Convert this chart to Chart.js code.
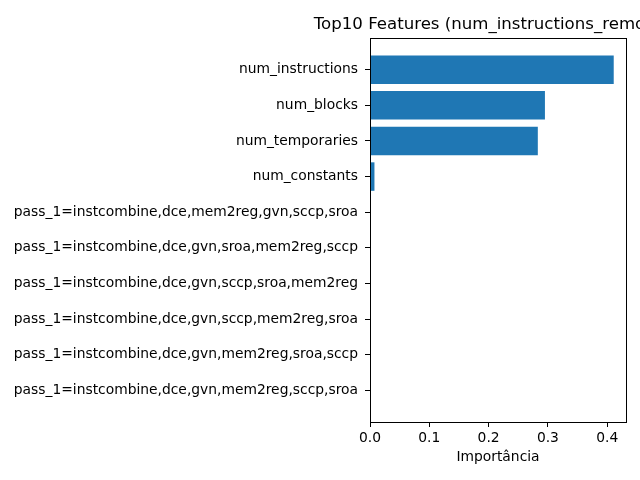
<!DOCTYPE html>
<html>
<head>
<meta charset="utf-8">
<script src="https://cdn.jsdelivr.net/npm/chart.js@4/dist/chart.umd.min.js"></script>
<style>
  html, body { margin: 0; padding: 0; background: #fff; }
</style>
</head>
<body>
<canvas id="grafico" width="640" height="480"></canvas>
<script>
// datos (de arriba hacia abajo)
const features = [
  'num_instructions',
  'num_blocks',
  'num_temporaries',
  'num_constants',
  'pass_1=instcombine,dce,mem2reg,gvn,sccp,sroa',
  'pass_1=instcombine,dce,gvn,sroa,mem2reg,sccp',
  'pass_1=instcombine,dce,gvn,sccp,sroa,mem2reg',
  'pass_1=instcombine,dce,gvn,sccp,mem2reg,sroa',
  'pass_1=instcombine,dce,gvn,mem2reg,sroa,sccp',
  'pass_1=instcombine,dce,gvn,mem2reg,sccp,sroa'
]
const importancia = [0.411, 0.295, 0.283, 0.0075, 0, 0, 0, 0, 0, 0]
const xTicks = [0, 0.1, 0.2, 0.3, 0.4]
const titulo = 'Top10 Features (num_instructions_removed)'
const xTitulo = 'Importância'

const fuente = 'DejaVu Sans'

// titulo centrado sobre el area del grafico + marco completo
const marco = {
  id: 'marco',
  afterDraw(chart) {
    const ctx = chart.ctx
    const a = chart.chartArea
    ctx.save()
    ctx.strokeStyle = '#000'
    ctx.lineWidth = 1
    ctx.strokeRect(Math.round(a.left) + 0.5, Math.round(a.top) + 0.5,
      Math.round(a.right - a.left), Math.round(a.bottom - a.top))
    ctx.fillStyle = '#000'
    ctx.font = '16.6px "' + fuente + '"'
    ctx.textAlign = 'center'
    ctx.textBaseline = 'alphabetic'
    ctx.fillText(titulo, (a.left + a.right) / 2, 29)
    ctx.restore()
  }
}

const datos = importancia.map((v, i) => ({ x: v, y: i }))

new Chart(document.getElementById('grafico').getContext('2d'), {
  type: 'bar',
  data: {
    datasets: [{
      data: datos,
      backgroundColor: '#1f77b4',
      borderWidth: 0,
      barPercentage: 0.8,
      categoryPercentage: 1.0
    }]
  },
  options: {
    indexAxis: 'y',
    responsive: false,
    animation: false,
    devicePixelRatio: 1,
    layout: { padding: { top: 38, right: 14, left: 0, bottom: 14 } },
    plugins: {
      legend: { display: false },
      title: { display: false },
      tooltip: { enabled: false }
    },
    scales: {
      y: {
        type: 'linear',
        reverse: true,
        offset: false,
        min: -0.89,
        max: 9.89,
        afterBuildTicks: (s) => { s.ticks = features.map((f, i) => ({ value: i })) },
        afterFit: (s) => { s.width = 370 },
        border: { display: false },
        grid: { offset: false, drawOnChartArea: false, tickLength: 5, color: '#000', tickWidth: 1 },
        ticks: {
          color: '#000',
          padding: 7,
          font: { family: fuente, size: 13.85 },
          callback: (v) => features[v]
        }
      },
      x: {
        type: 'linear',
        min: 0,
        max: 0.4317,
        afterBuildTicks: (s) => { s.ticks = xTicks.map(v => ({ value: v })) },
        afterFit: (s) => { s.height = 44 },
        border: { display: false },
        grid: { drawOnChartArea: false, tickLength: 5, color: '#000', tickWidth: 1 },
        ticks: {
          color: '#000',
          padding: 3,
          maxRotation: 0,
          font: { family: fuente, size: 13.85 },
          callback: (v) => v.toFixed(1)
        },
        title: {
          display: true,
          text: xTitulo,
          color: '#000',
          padding: { top: 4, bottom: 0 },
          font: { family: fuente, size: 13.85 }
        }
      }
    }
  },
  plugins: [marco]
})
</script>
</body>
</html>
